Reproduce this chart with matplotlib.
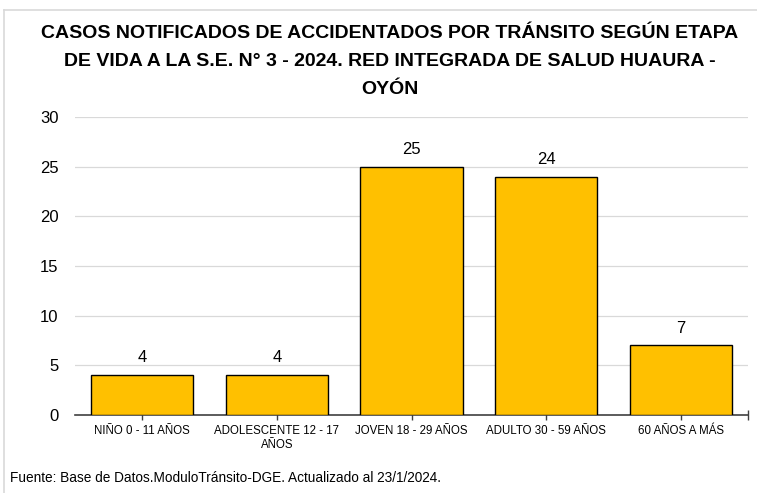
import matplotlib
matplotlib.use('Agg')
import matplotlib.pyplot as plt
from matplotlib.lines import Line2D
from matplotlib import font_manager

fams = [f.name for f in font_manager.fontManager.ttflist]
narrow = 'Liberation Sans Narrow' if 'Liberation Sans Narrow' in fams else 'Liberation Sans'
plt.rcParams['font.family'] = [narrow, 'DejaVu Sans']

categorias = ['NIÑO 0 - 11 AÑOS', 'ADOLESCENTE 12 - 17\nAÑOS', 'JOVEN 18 - 29 AÑOS',
              'ADULTO 30 - 59 AÑOS', '60 AÑOS A MÁS']
casos = [4, 4, 25, 24, 7]
yticks = [0, 5, 10, 15, 20, 25, 30]

titulo = ('CASOS NOTIFICADOS DE ACCIDENTADOS POR TRÁNSITO SEGÚN ETAPA\n'
          'DE VIDA A LA S.E. N° 3 - 2024. RED INTEGRADA DE SALUD HUAURA -\nOYÓN')
fuente = 'Fuente: Base de Datos.ModuloTránsito-DGE. Actualizado al 23/1/2024.'

W, H = 757, 493
fig = plt.figure(figsize=(W / 100, H / 100), dpi=100)
ax = fig.add_axes([75 / W, 1 - 415 / H, (748 - 75) / W, (415 - 117) / H])

x = range(len(casos))
ax.bar(x, casos, width=0.76, color='#FFC000', edgecolor='black', linewidth=1, zorder=3)
for xi, v in zip(x, casos):
    ax.text(xi, v + 1.0, str(v), ha='center', va='bottom', fontsize=12)

ax.set_xlim(-0.5, len(casos) - 0.5)
ax.set_ylim(0, 30)
ax.set_yticks(yticks)
ax.yaxis.grid(True, color='#d9d9d9', linewidth=0.9, zorder=0)
ax.tick_params(axis='y', length=0, labelsize=12, pad=12)
ax.set_xticks(list(x))
ax.set_xticklabels(categorias, fontsize=8.3)
ax.set_xticks([len(casos) - 0.5], minor=True)
ax.tick_params(axis='x', which='both', direction='inout', length=7, width=1, color='#404040', pad=4)
for s in ['top', 'right', 'left']:
    ax.spines[s].set_visible(False)
ax.spines['bottom'].set_color('#404040')
ax.spines['bottom'].set_linewidth(1.2)

fig.text(390 / W, 1 - 25 / H, titulo, ha='center', va='top', fontsize=14,
         fontweight='bold', linespacing=1.86)
fig.text(10 / W, 1 - 478 / H, fuente, ha='left', va='center', fontsize=9.8)

# marco del grafico
fig.add_artist(Line2D([4 / W, 4 / W], [0, 1 - 10 / H], transform=fig.transFigure,
                      color='#d9d9d9', linewidth=1.2))
fig.add_artist(Line2D([4 / W, 1], [1 - 10 / H, 1 - 10 / H], transform=fig.transFigure,
                      color='#d9d9d9', linewidth=1.2))

fig.savefig('out.png', dpi=100)
